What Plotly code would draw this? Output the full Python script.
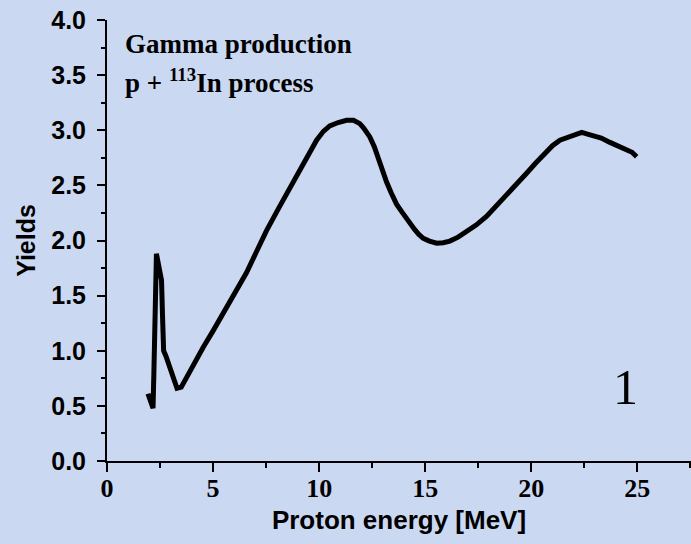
import plotly.graph_objects as go

# Gamma yield for p + 113In as a function of proton energy
energy_mev = [1.93, 2.05, 2.17, 2.21, 2.25, 2.29, 2.33, 2.45, 2.57, 2.62, 2.67, 2.78,
              2.88, 3.04, 3.18, 3.30, 3.50, 3.75, 4.10, 4.53, 5.00, 5.47, 6.00,
              6.58, 7.05, 7.52, 8.14, 8.62, 9.25, 9.88, 10.20, 10.50, 10.90, 11.29,
              11.62, 11.92, 12.10, 12.39, 12.60, 12.78, 13.00, 13.18, 13.40, 13.65,
              13.90, 14.10, 14.28, 14.50, 14.70, 14.91, 15.20, 15.54, 15.85, 16.16,
              16.55, 16.95, 17.40, 17.90, 18.40, 18.84, 19.30, 19.78, 20.20, 20.57,
              21.00, 21.35, 21.90, 22.38, 22.65, 22.92, 23.30, 23.71, 24.10, 24.50,
              24.75, 24.97]
yields = [0.61, 0.54, 0.48, 0.80, 1.20, 1.60, 1.88, 1.76, 1.64, 1.30, 1.00, 0.95,
          0.90, 0.82, 0.72, 0.66, 0.67, 0.76, 0.88, 1.03, 1.18, 1.34, 1.52,
          1.71, 1.90, 2.09, 2.31, 2.48, 2.70, 2.91, 2.99, 3.04, 3.07, 3.09,
          3.09, 3.06, 3.02, 2.94, 2.85, 2.74, 2.62, 2.53, 2.43, 2.33,
          2.26, 2.20, 2.15, 2.10, 2.055, 2.02, 1.995, 1.975, 1.98, 1.995,
          2.03, 2.08, 2.14, 2.22, 2.32, 2.41, 2.51, 2.61, 2.70, 2.78,
          2.86, 2.91, 2.95, 2.98, 2.965, 2.95, 2.93, 2.89, 2.86, 2.83,
          2.80, 2.76]

x_ticks = [0, 5, 10, 15, 20, 25]
y_ticks = [0.0, 0.5, 1.0, 1.5, 2.0, 2.5, 3.0, 3.5, 4.0]

bg = "#cbd8f2"
serif = "Liberation Serif, Times New Roman, serif"
sans = "Liberation Sans, Arial, sans-serif"

fig = go.Figure()
fig.add_trace(go.Scatter(
    x=energy_mev, y=yields, mode="lines",
    line=dict(color="black", width=5),
    showlegend=False, hoverinfo="skip",
))

fig.update_layout(
    width=691, height=544,
    margin=dict(l=107, r=0, t=20, b=83),
    paper_bgcolor=bg, plot_bgcolor=bg,
    xaxis=dict(
        range=[0, 27.53], tickvals=x_ticks, ticktext=[str(v) for v in x_ticks],
        showgrid=False, zeroline=False, showline=True, linecolor="black", linewidth=2,
        ticks="outside", ticklen=9, tickwidth=2, tickcolor="black",
        minor=dict(dtick=2.5, tick0=0, ticks="outside", ticklen=5, tickwidth=2,
                   tickcolor="black", showgrid=False),
        tickfont=dict(family=serif, size=26, color="black", weight="bold"),
        ticklabelstandoff=-6,
        title=dict(text="Proton energy [MeV]", standoff=9,
                   font=dict(family=sans, size=26, color="black", weight="bold")),
    ),
    yaxis=dict(
        range=[0, 4.0], tickvals=y_ticks, ticktext=[f"{v:.1f}" for v in y_ticks],
        showgrid=False, zeroline=False, showline=True, linecolor="black", linewidth=2,
        ticks="outside", ticklen=8, tickwidth=2, tickcolor="black",
        minor=dict(dtick=0.25, tick0=0, ticks="outside", ticklen=4, tickwidth=2,
                   tickcolor="black", showgrid=False),
        tickfont=dict(family=sans, size=25, color="black", weight="bold"),
        ticklabelstandoff=6,
        title=dict(text="Yields", standoff=8,
                   font=dict(family=sans, size=25, color="black", weight="bold")),
    ),
)

fig.add_annotation(
    xref="paper", yref="paper", x=0.028, y=0.946, xanchor="left", yanchor="middle",
    text="<b>Gamma production</b>", showarrow=False,
    font=dict(family=serif, size=27, color="black"),
)
fig.add_annotation(
    xref="paper", yref="paper", x=0.028, y=0.861, xanchor="left", yanchor="middle",
    text="<b>p + <sup>113</sup>In process</b>", showarrow=False,
    font=dict(family=serif, size=27, color="black"),
)
fig.add_annotation(
    xref="paper", yref="paper", x=0.887, y=0.168, xanchor="center", yanchor="middle",
    text="1", showarrow=False,
    font=dict(family=serif, size=50, color="black"),
)

fig.write_html("out.html")
